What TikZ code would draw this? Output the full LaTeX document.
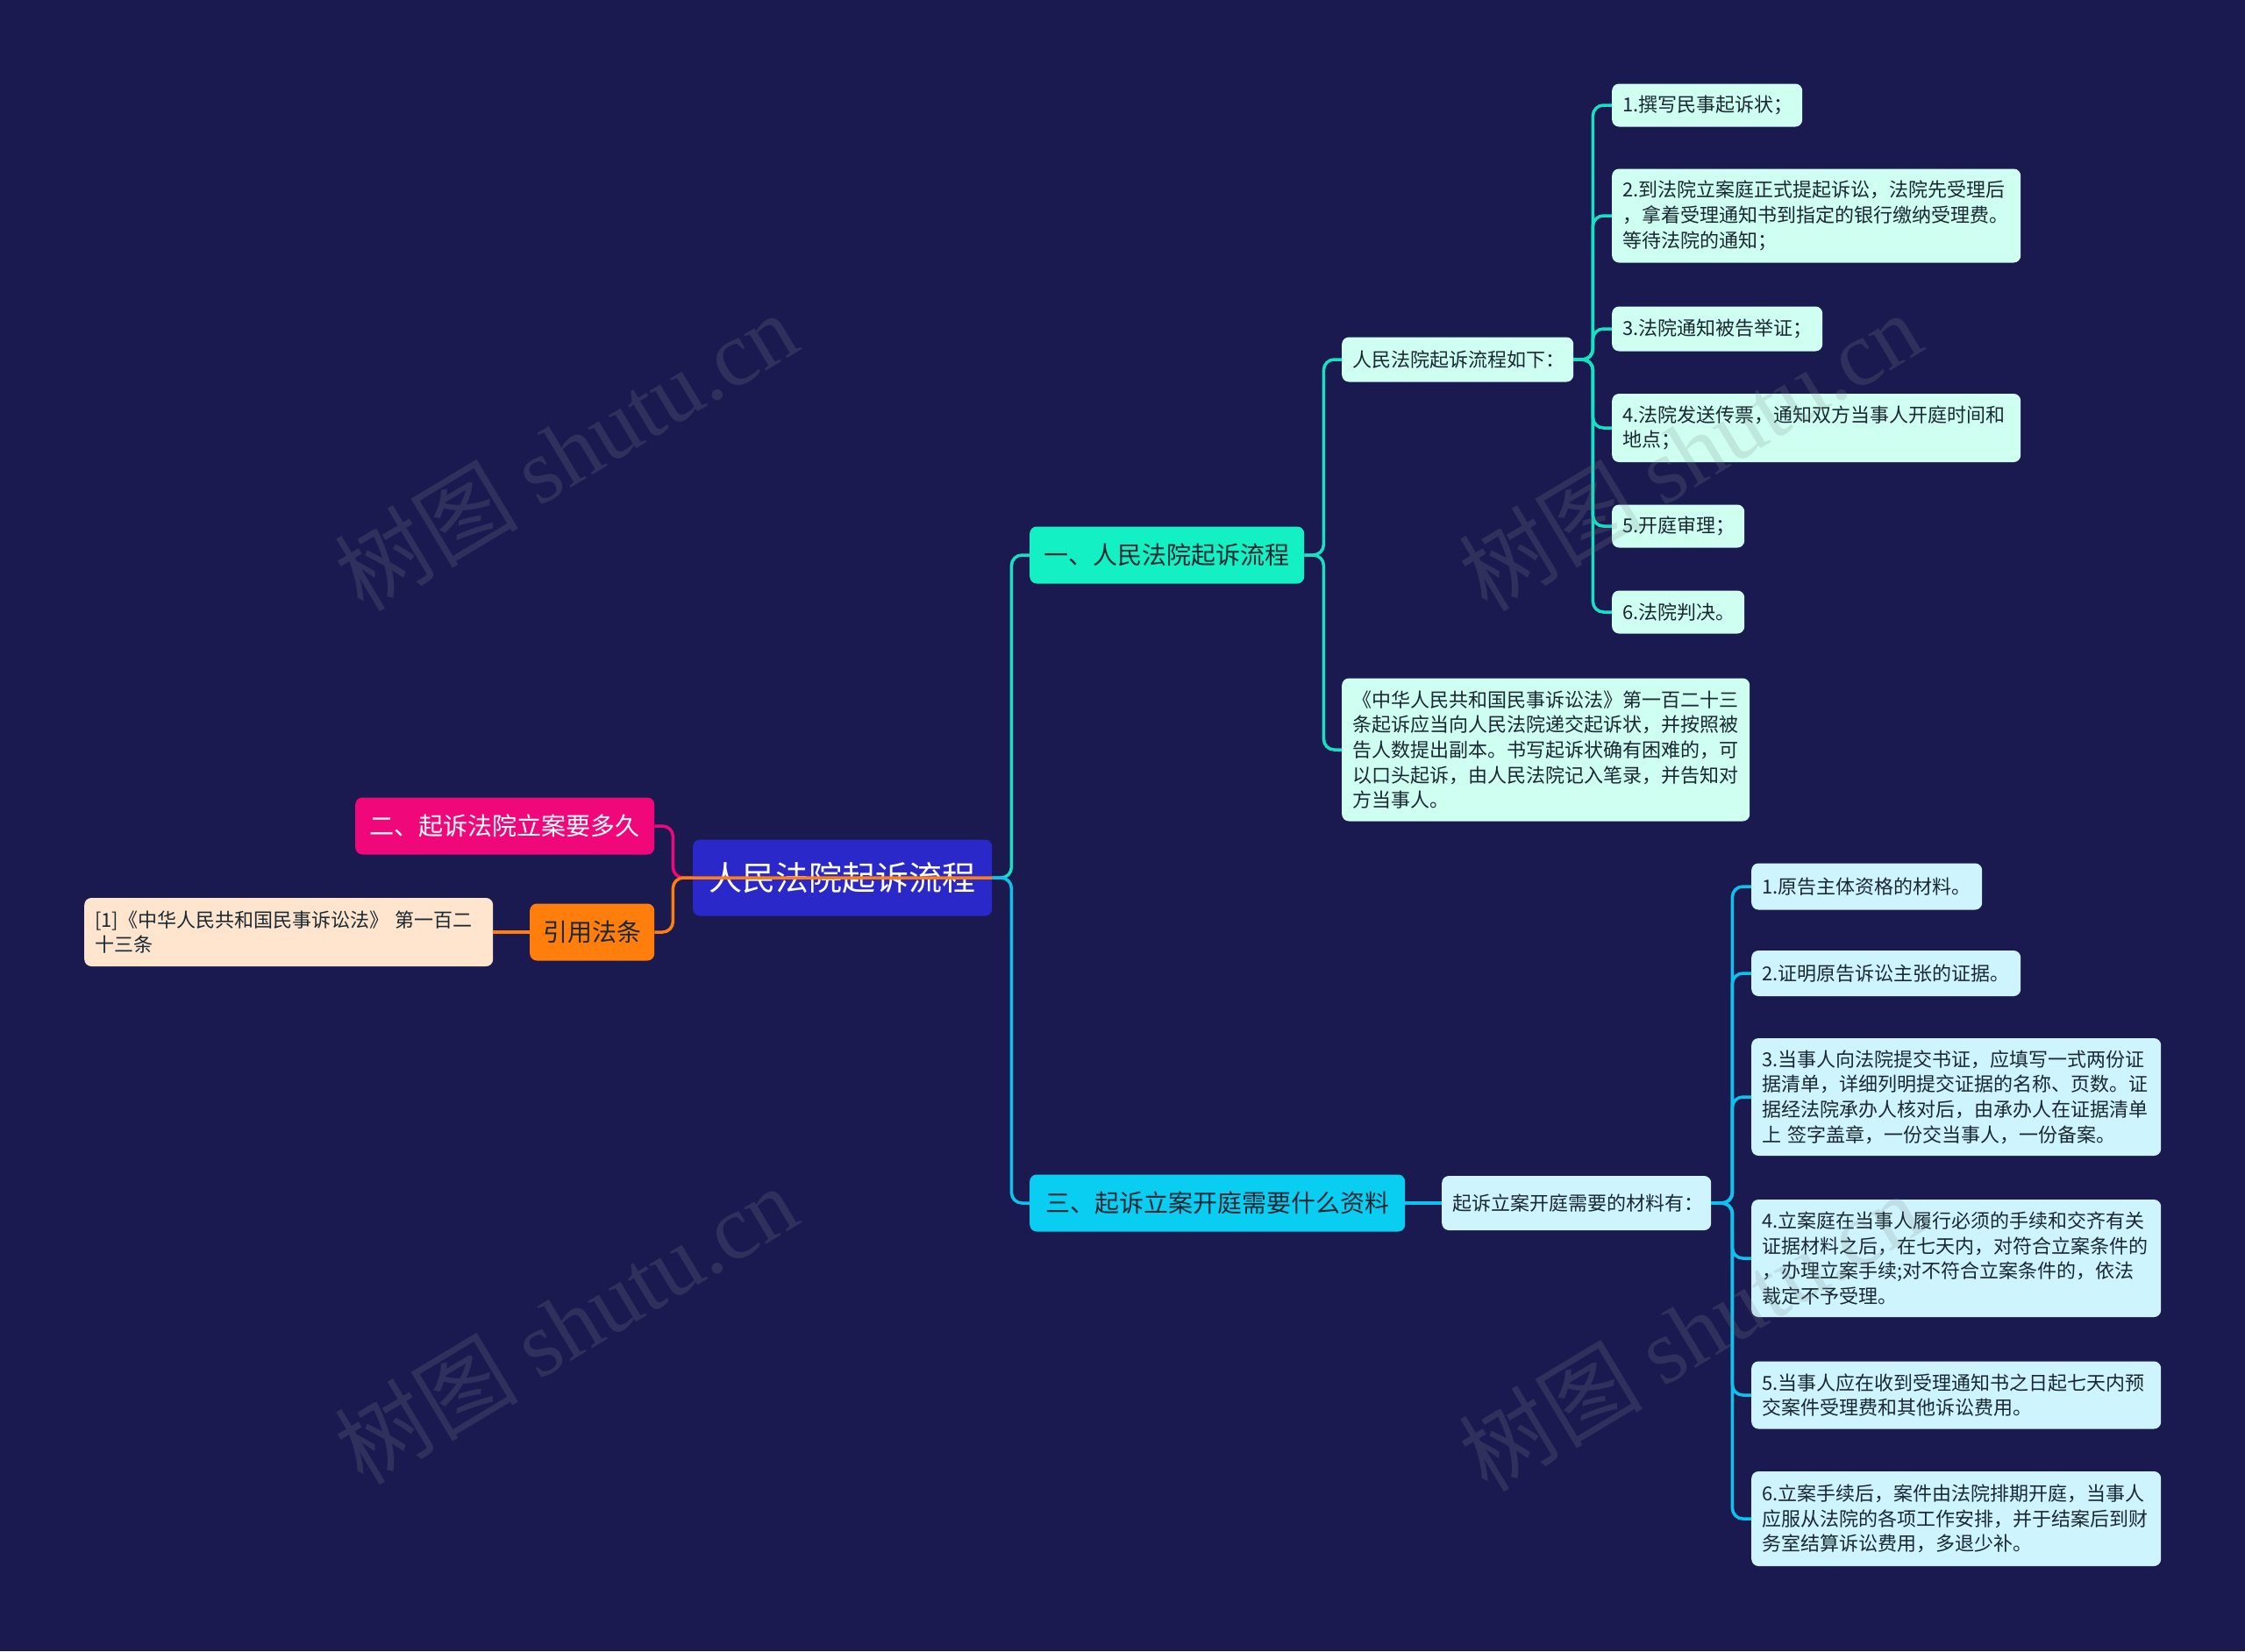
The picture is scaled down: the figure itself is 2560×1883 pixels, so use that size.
\documentclass[tikz,border=0pt]{standalone}
\usepackage{fontspec}
\setmainfont{Noto Sans CJK SC}
\newfontfamily\wmserif{Liberation Serif}

\definecolor{bgnavy}{RGB}{27,26,80}
\definecolor{rootblue}{RGB}{42,40,200}
\definecolor{tealmain}{RGB}{18,240,196}
\definecolor{cyanmain}{RGB}{10,205,242}
\definecolor{pinkmain}{RGB}{240,8,122}
\definecolor{orangemain}{RGB}{255,126,12}
\definecolor{peachleaf}{RGB}{255,229,206}
\definecolor{mintleaf}{RGB}{206,255,241}
\definecolor{blueleaf}{RGB}{206,244,253}
\definecolor{darktext}{RGB}{25,40,50}
\definecolor{tealline}{RGB}{22,225,195}
\definecolor{cyanline}{RGB}{12,195,238}
\definecolor{wmgray}{RGB}{128,140,140}

\begin{document}
\begin{tikzpicture}[x=1pt,y=-1pt,
	box/.style={rounded corners=8pt, inner xsep=12pt, inner ysep=0pt, anchor=west, text=darktext},
	leaf/.style={box, font=\fontsize{22}{28.6}\selectfont, align=left, text width=#1},
	topic/.style={box, font=\fontsize{28}{34}\selectfont, minimum height=65pt},
	link/.style={line width=3.5pt, rounded corners=12pt},
	wmark/.style={text=wmgray, text opacity=0.2, font=\fontsize{105}{110}\selectfont, rotate=31}]

	\fill[bgnavy] (0,0) rectangle (2560,1883);
	\useasboundingbox (0,0) rectangle (2560,1883);

	\node[box, fill=rootblue, text=white, font=\fontsize{38}{46}\selectfont, minimum width=341pt, minimum height=87pt] (root) at (790,1001) {人民法院起诉流程};

	\node[topic, fill=tealmain, minimum width=313pt] (b1) at (1174,633) {一、人民法院起诉流程};
	\node[topic, fill=pinkmain, text=white, minimum width=341pt] (b2) at (405,942) {二、起诉法院立案要多久};
	\node[topic, fill=cyanmain, minimum width=428pt] (b3) at (1174,1372) {三、起诉立案开庭需要什么资料};
	\node[topic, fill=orangemain, minimum width=142pt] (cite) at (604,1063) {引用法条};

	\node[leaf=442pt, fill=peachleaf, minimum height=78pt] (ref) at (96,1063) {[1]《中华人民共和国民事诉讼法》 第一百二\\十三条};

	\node[leaf=240pt, fill=mintleaf, minimum height=51pt] (s1) at (1530,410) {人民法院起诉流程如下：};
	\node[leaf=441pt, fill=mintleaf, minimum height=163pt] (law) at (1530,855) {《中华人民共和国民事诉讼法》第一百二十三\\条起诉应当向人民法院递交起诉状，并按照被\\告人数提出副本。书写起诉状确有困难的，可\\以口头起诉，由人民法院记入笔录，并告知对\\方当事人。};

	\foreach \i/\y/\w/\h/\txt in {
	  1/120/193/49/{1.撰写民事起诉状；},
	  2/246/442/107/{2.到法院立案庭正式提起诉讼，法院先受理后\\，拿着受理通知书到指定的银行缴纳受理费。\\等待法院的通知；},
	  3/375/216/51/{3.法院通知被告举证；},
	  4/488/442/78/{4.法院发送传票，通知双方当事人开庭时间和\\地点；},
	  5/600/127/49/{5.开庭审理；},
	  6/698/127/49/{6.法院判决。}}{
	  \node[leaf=\w pt, fill=mintleaf, minimum height=\h pt] (p\i) at (1838,\y) {\txt};
	}

	\node[leaf=283pt, fill=blueleaf, minimum height=62pt] (s3) at (1644,1372) {起诉立案开庭需要的材料有：};

	\foreach \i/\y/\w/\h/\txt in {
	  1/1011/239/53/{1.原告主体资格的材料。},
	  2/1110/283/52/{2.证明原告诉讼主张的证据。},
	  3/1251/443/134/{3.当事人向法院提交书证，应填写一式两份证\\据清单，详细列明提交证据的名称、页数。证\\据经法院承办人核对后，由承办人在证据清单\\上 签字盖章，一份交当事人，一份备案。},
	  4/1435/443/134/{4.立案庭在当事人履行必须的手续和交齐有关\\证据材料之后，在七天内，对符合立案条件的\\，办理立案手续;对不符合立案条件的，依法\\裁定不予受理。},
	  5/1591/443/77/{5.当事人应在收到受理通知书之日起七天内预\\交案件受理费和其他诉讼费用。},
	  6/1732/443/108/{6.立案手续后，案件由法院排期开庭，当事人\\应服从法院的各项工作安排，并于结案后到财\\务室结算诉讼费用，多退少补。}}{
	  \node[leaf=\w pt, fill=blueleaf, minimum height=\h pt] (m\i) at (1997,\y) {\txt};
	}

	\draw[link, tealline] (root.east) -- ++(22,0) |- (b1.west);
	\draw[link, cyanline] (root.east) -- ++(22,0) |- (b3.west);

	\draw[link, tealline] (b1.east) -- ++(22,0) |- (s1.west);
	\draw[link, tealline] (b1.east) -- ++(22,0) |- (law.west);
	\foreach \i in {1,...,6}{
	  \draw[link, tealline] (s1.east) -- ++(22,0) |- (p\i.west);
	}

	\draw[link, cyanline] (b3.east) -- (s3.west);
	\foreach \i in {1,...,6}{
	  \draw[link, cyanline] (s3.east) -- ++(24,0) |- (m\i.west);
	}

	\draw[link, pinkmain] (b2.east) -- ++(21,0) |- (root.west);
	\draw[link, orangemain] (cite.east) -- ++(21,0) |- (root.east);
	\draw[link, orangemain] (cite.west) -- (ref.east);

	\foreach \p/\x/\y in {1/645/514, 2/1927/514, 3/645/1510, 4/1927/1518}{
	  \node[wmark] (wm\p) at (\x,\y) {树图 {\wmserif shutu.cn}};
	}
\end{tikzpicture}
\end{document}
